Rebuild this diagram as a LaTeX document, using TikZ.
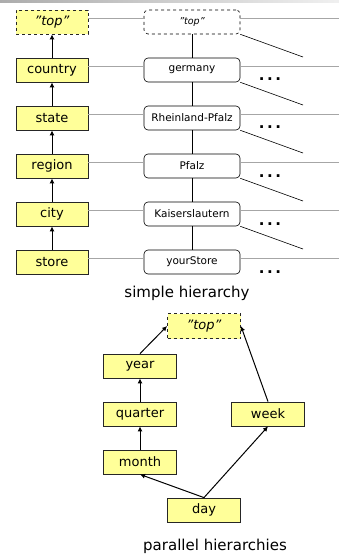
\documentclass[tikz,border=0pt]{standalone}
\usepackage{fontspec}
\setmainfont{DejaVu Sans}
\usetikzlibrary{arrows.meta}
\definecolor{boxyellow}{HTML}{FFFF99}
\begin{document}
\begin{tikzpicture}[x=1pt,y=-1pt,
 lev/.style={draw=black!85, fill=boxyellow, minimum width=72pt, minimum height=24pt, inner sep=0pt, font=\fontsize{13}{15}\selectfont, line width=0.8pt},
 topbox/.style={lev, dashed},
 inst/.style={draw, rounded corners=4pt, minimum width=96pt, minimum height=24pt, inner sep=0pt, font=\fontsize{10.5}{12}\selectfont, line width=0.6pt},
 up/.style={-{Latex[length=5pt,width=5pt]}, line width=1pt},
 guide/.style={draw=gray!70, line width=0.6pt},
 diag/.style={line width=0.6pt},
 dotstxt/.style={font=\bfseries\fontsize{15}{17}\selectfont, inner sep=0pt, anchor=base},
 captxt/.style={font=\fontsize{15}{18}\selectfont}]
\useasboundingbox (0,0) rectangle (339,556);
\shade[left color=gray!65, right color=gray!12] (0,0) rectangle (339,3);

% left levels
\node[topbox] (L0) at (52,22) {\textit{"top"}};
\node[lev] (L1) at (52,70) {country};
\node[lev] (L2) at (52,118) {state};
\node[lev] (L3) at (52,166) {region};
\node[lev] (L4) at (52,214) {city};
\node[lev] (L5) at (52,262) {store};
\foreach \a/\b in {L1/L0,L2/L1,L3/L2,L4/L3,L5/L4} \draw[up] (\a.north) -- (\b.south);

% instances
\node[inst, dashed] (M0) at (192,22) {\fontsize{9.5}{11}\selectfont\textit{"top"}};
\node[inst] (M1) at (192,70) {germany};
\node[inst] (M2) at (192,118) {Rheinland-Pfalz};
\node[inst] (M3) at (192,166) {Pfalz};
\node[inst] (M4) at (192,214) {Kaiserslautern};
\node[inst] (M5) at (192,262) {yourStore};
\foreach \a/\b in {M1/M0,M2/M1,M3/M2,M4/M3,M5/M4} \draw[line width=0.6pt] (\a.north) -- (\b.south);

% guides
\foreach \i/\y in {0/22,1/70,2/118,3/166,4/214,5/262} {
  \coordinate (R\i) at (339,\y-4);
  \draw[guide] ([yshift=4pt]L\i.east) -- ([yshift=4pt]M\i.west);
  \draw[guide] ([yshift=4pt]M\i.east) -- (R\i);
}
% diagonals
\foreach \i/\y in {0/22,1/70,2/118,3/166,4/214} {
  \coordinate (D\i) at (303,\y+35);
  \draw[diag] (M\i.south east) -- (D\i);
}
% dots
\foreach \i/\y in {1/70,2/118,3/166,4/214,5/262}
  \node[dotstxt] (T\i) at (270,\y+11) {.\hspace{2.5pt}.\hspace{2.5pt}.};

\node[captxt] (c1) at (187,293) {simple hierarchy};

% parallel hierarchies
\node[topbox, minimum width=73pt, minimum height=25pt] (P0) at (204,326) {\textit{"top"}};
\node[lev, minimum width=73pt] (Y) at (140,366) {year};
\node[lev, minimum width=73pt] (Q) at (140,414) {quarter};
\node[lev, minimum width=73pt] (Mo) at (140,462) {month};
\node[lev, minimum width=73pt] (W) at (268,414) {week};
\node[lev, minimum width=73pt] (Dy) at (204,510) {day};
\draw[up] (Y.north) -- (P0.west);
\draw[up] (W.north) -- (P0.east);
\draw[up] (Q.north) -- (Y.south);
\draw[up] (Mo.north) -- (Q.south);
\draw[up] (Dy.north) -- (Mo.south);
\draw[up] (Dy.north) -- (W.south);

\node[captxt] (c2) at (215,546) {parallel hierarchies};
\end{tikzpicture}
\end{document}
